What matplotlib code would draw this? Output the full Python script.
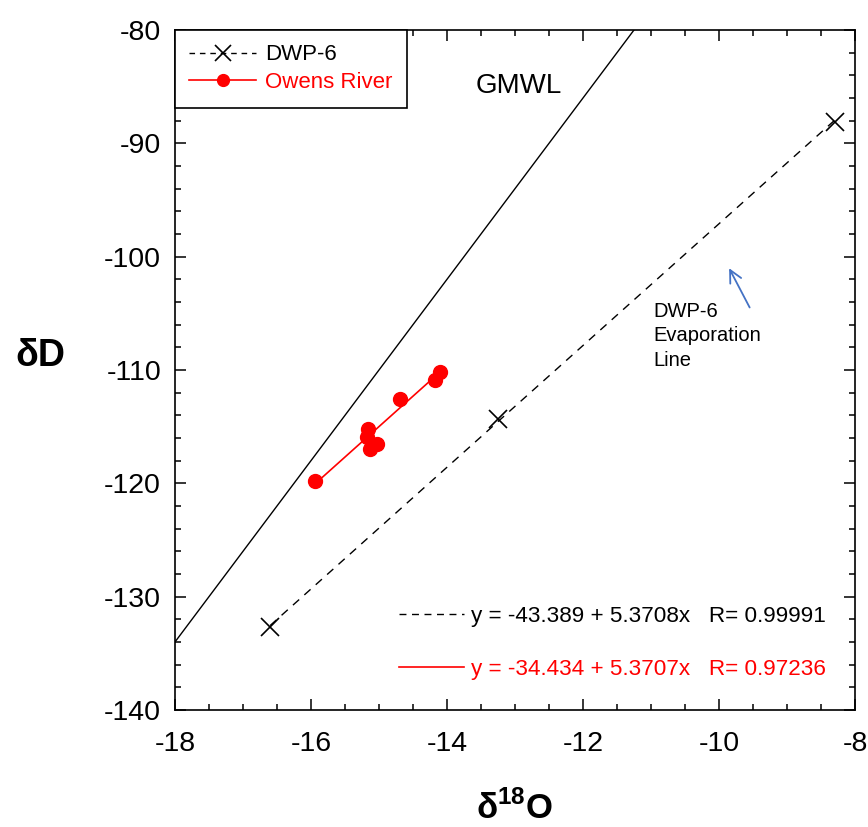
import numpy as np
import matplotlib
matplotlib.use("Agg")
from matplotlib import pyplot as plt
from matplotlib.lines import Line2D

plt.rcParams['font.family'] = ['Liberation Sans', 'DejaVu Sans']
plt.rcParams['axes.unicode_minus'] = False
plt.rcParams['mathtext.fontset'] = 'custom'
plt.rcParams['mathtext.rm'] = 'Liberation Sans'
plt.rcParams['mathtext.bf'] = 'Liberation Sans:bold'

# DWP-6 samples
dwp_o18 = [-16.6, -13.25, -8.3]
dwp_d = [-132.7, -114.3, -88.1]
dwp_fit = (-43.389, 5.3708)   # intercept, slope
dwp_r = 0.99991

# Owens River samples
owens_o18 = [-15.94, -15.16, -15.18, -15.03, -15.13, -14.69, -14.18, -14.10]
owens_d = [-119.8, -115.2, -115.9, -116.5, -117.0, -112.6, -110.9, -110.2]
owens_fit = (-34.434, 5.3707)
owens_r = 0.97236

# global meteoric water line
gmwl_fit = (10.0, 8.0)
gmwl_x = [-18, -8]

fig = plt.figure(figsize=(8.68, 8.27), dpi=100)
ax = fig.add_axes([0.2016, 0.1415, 0.7834, 0.8222])

# GMWL
gx = np.array(gmwl_x)
ax.plot(gx, gmwl_fit[0] + gmwl_fit[1] * gx, '-', color='black', lw=1.0)

# DWP-6 evaporation line + points
dx = np.array([min(dwp_o18), max(dwp_o18)])
ax.plot(dx, dwp_fit[0] + dwp_fit[1] * dx, color='black', lw=1.0, linestyle=(0, (6, 5)))
ax.plot(dwp_o18, dwp_d, 'x', color='black', markersize=12.5, markeredgewidth=1.2)

# Owens River fit + points
ox = np.array([min(owens_o18), max(owens_o18)])
ax.plot(ox, owens_fit[0] + owens_fit[1] * ox, '-', color='red', lw=1.2)
ax.plot(owens_o18, owens_d, 'o', color='red', markersize=10)

ax.set_xlim(-18, -8)
ax.set_ylim(-140, -80)
ax.set_xticks(np.arange(-18, -7, 2))
ax.set_yticks(np.arange(-140, -79, 10))
ax.set_xticks(np.arange(-18, -7.9, 0.5), minor=True)
ax.set_yticks(np.arange(-140, -79, 2), minor=True)
ax.tick_params(which='both', direction='in', top=True, right=True, width=1.1)
ax.tick_params(which='major', length=8, labelsize=20.5)
ax.tick_params(which='minor', length=4.3)
ax.tick_params(axis='y', pad=10)
ax.tick_params(axis='x', pad=15)
for s in ax.spines.values():
    s.set_linewidth(1.2)

ax.set_ylabel('δD', fontsize=27, fontweight='bold', rotation=0, va='center', ha='center')
ax.yaxis.set_label_coords(-0.198, 0.52)
ax.set_xlabel('δ$^{\\mathbf{18}}$O', fontsize=25, fontweight='bold', va='top')
ax.xaxis.set_label_coords(0.5, -0.118)

ax.text(-12.94, -84.98, 'GMWL', fontsize=20, ha='center', va='center')
ax.text(-10.96, -104.0, 'DWP-6\nEvaporation\nLine', fontsize=14.5, ha='left', va='top',
        linespacing=1.35)
ax.annotate('', xy=(-9.87, -100.8), xytext=(-9.53, -104.7),
            arrowprops=dict(arrowstyle='->', color='#4472C4', lw=1.3,
                            mutation_scale=22))

h1 = [Line2D([], [], color='black', lw=1.0, linestyle=(0, (4, 3.5)), marker='x',
             markersize=11, markeredgewidth=1.2),
      Line2D([], [], color='red', lw=1.2, marker='o', markersize=8.5)]
leg1 = ax.legend(h1, ['DWP-6', 'Owens River'], loc='upper left', bbox_to_anchor=(0, 1),
                 borderaxespad=0, fancybox=False, edgecolor='black', fontsize=16,
                 borderpad=0.65, labelspacing=0.3, handlelength=3.0, handletextpad=0.4,
                 framealpha=1)
leg1.get_frame().set_linewidth(1.2)
leg1.get_texts()[1].set_color('red')
ax.add_artist(leg1)

h2 = [Line2D([], [], color='black', lw=1.0, linestyle=(0, (5, 4))),
      Line2D([], [], color='red', lw=1.2)]
lab2 = ['y = %.3f + %.4fx   R= %.5f' % (dwp_fit[0], dwp_fit[1], dwp_r),
        'y = %.3f + %.4fx   R= %.5f' % (owens_fit[0], owens_fit[1], owens_r)]
leg2 = ax.legend(h2, lab2, loc='lower right', bbox_to_anchor=(0.987, 0.014),
                 frameon=False, fontsize=16.2, labelspacing=1.45, handlelength=2.9,
                 handletextpad=0.3)
leg2.get_texts()[1].set_color('red')

fig.savefig('out.png', dpi=100)
